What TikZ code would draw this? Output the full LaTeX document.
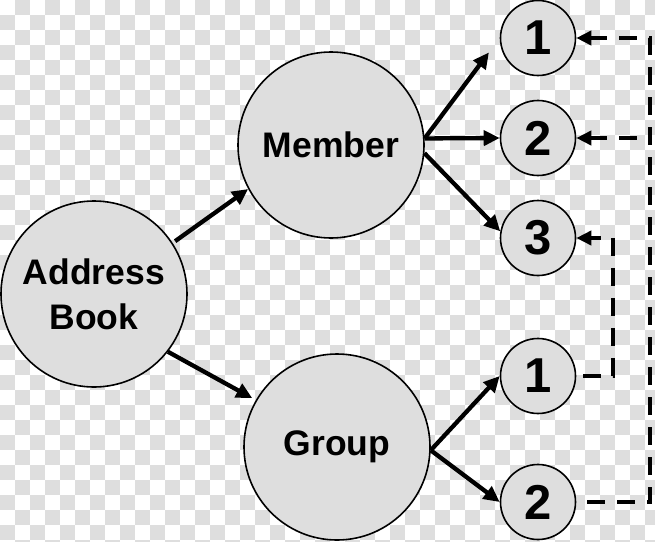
\documentclass[tikz,border=0pt]{standalone}
\usepackage{fontspec}
\setmainfont{Liberation Sans}
\usetikzlibrary{arrows.meta}
\begin{document}
\begin{tikzpicture}[x=1pt,y=-1pt,
  big/.style={circle, draw=black, line width=1.6pt, fill=black!13, minimum size=186pt, inner sep=0pt, font=\fontsize{35.5}{45}\selectfont\bfseries, align=center},
  small/.style={circle, draw=black, line width=1.6pt, fill=black!13, minimum size=75pt, inner sep=0pt, font=\fontsize{49}{50}\selectfont\bfseries},
  arr/.style={line width=4.3pt, -{Triangle[length=16pt,width=15pt]}},
  dsh/.style={line width=3.8pt, dash pattern=on 18pt off 12pt, {Triangle[length=15pt,width=14pt]}-},
]
\useasboundingbox (0,0) rectangle (655,541);
\begin{scope}
\clip (0,0) rectangle (655,541);
\foreach \x in {0,30,...,630} {
  \foreach \y in {0,30,...,540} {
    \fill[black!13] (\x+15,\y) rectangle +(15,15);
    \fill[black!13] (\x,\y+15) rectangle +(15,15);
  }
}
\end{scope}

\node[big] (ab) at (94,294) {Address\\Book};
\node[big] (mem) at (331,145) {Member};
\node[big] (grp) at (337,447) {Group};

\node[small] (m1) at (538,38) {1};
\node[small] (m2) at (538,138) {2};
\node[small] (m3) at (538,238) {3};
\node[small] (g1) at (538,376) {1};
\node[small] (g2) at (538,502) {2};

\coordinate (ot) at (650,38);
\coordinate (o2) at (650,138);
\coordinate (ob) at (650,502);
\coordinate (it) at (613,238);
\coordinate (ib) at (613,376);

\draw[arr, shorten <=3pt] (ab.33) -- (mem.208);
\draw[arr, shorten >=4pt] (ab.-38) -- (grp.150);

\draw[arr, shorten >=18pt] (mem.4) -- (m1.west);
\draw[arr] (mem.4) -- (m2.west);
\draw[arr] (mem.-5) -- (m3.170);

\draw[arr] (grp.-2) -- (g1.west);
\draw[arr] (grp.-2) -- (g2.west);

\draw[dsh, dash phase=1pt] (m1.east) -- (ot) -- (ob) -- (g2.east);
\draw[dsh, dash phase=1pt] (m2.east) -- (o2);
\draw[dsh, dash phase=7pt] (m3.east) -- (it) -- (ib) -- (g1.east);
\end{tikzpicture}
\end{document}
